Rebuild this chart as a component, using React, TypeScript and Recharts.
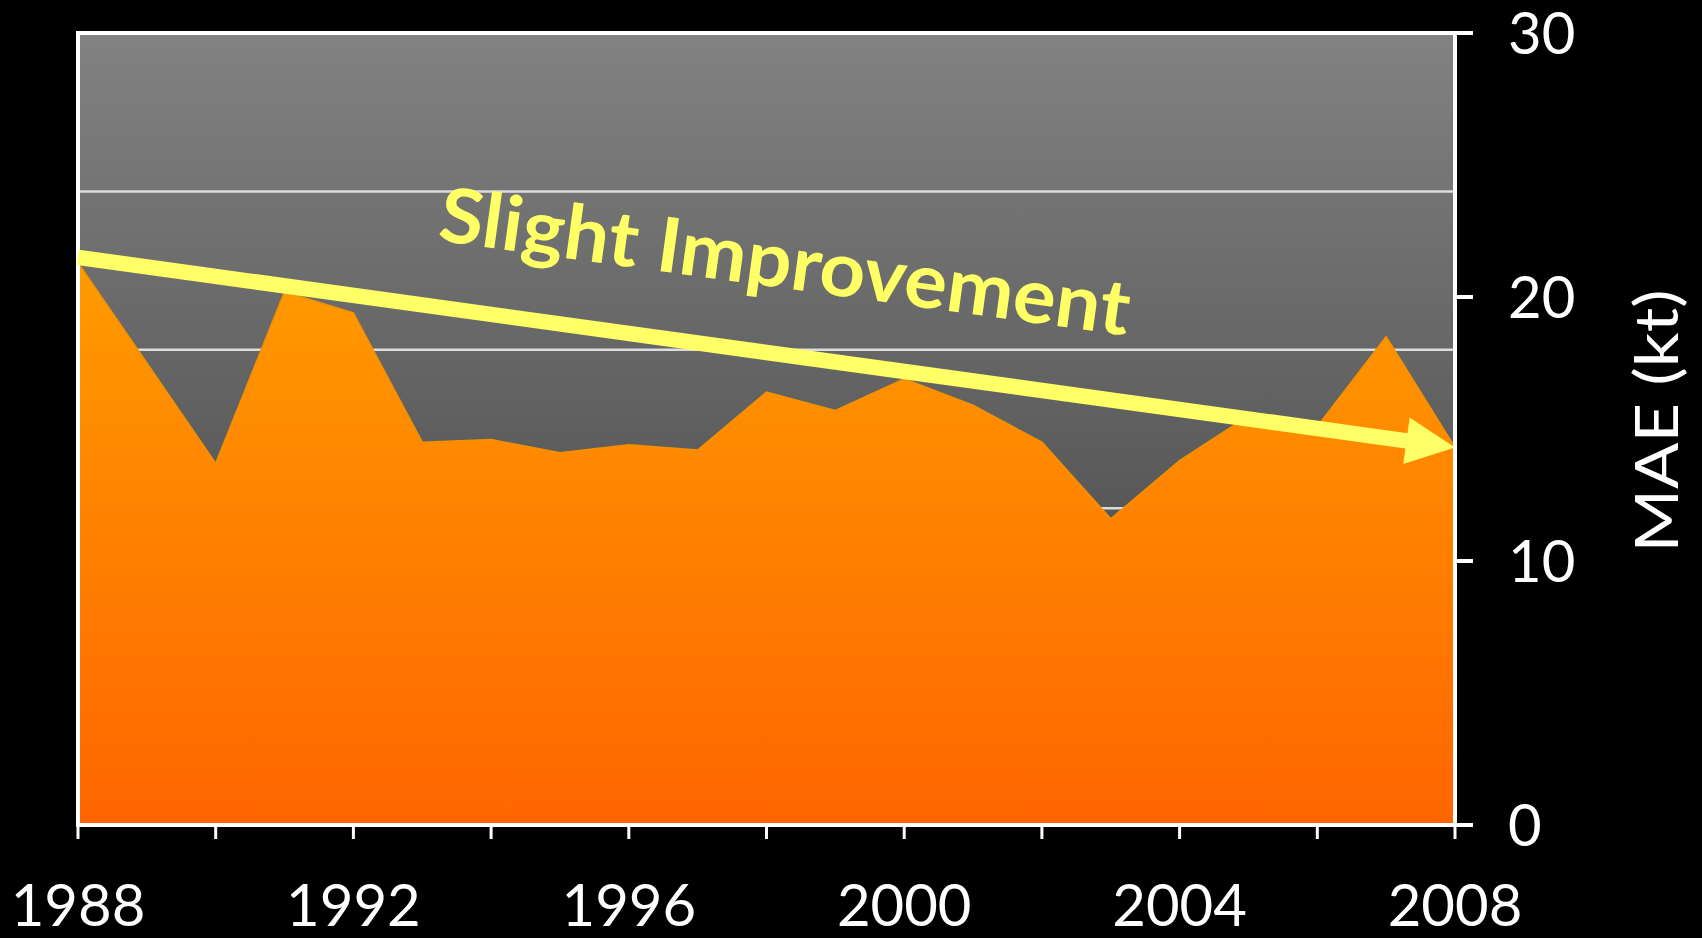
import React from "react";
import {
  ComposedChart,
  Area,
  XAxis,
  YAxis,
  CartesianGrid,
  ReferenceLine,
  ReferenceArea,
} from "recharts";

const years = [
  1988, 1989, 1990, 1991, 1992, 1993, 1994, 1995, 1996, 1997, 1998, 1999,
  2000, 2001, 2002, 2003, 2004, 2005, 2006, 2007, 2008,
];
const mae = [
  21.3, 17.5, 13.7, 20.2, 19.4, 14.5, 14.6, 14.1, 14.4, 14.2, 16.4, 15.7,
  16.9, 15.9, 14.5, 11.6, 13.8, 15.5, 15.1, 18.5, 14.3,
];

// trend arrow end points
const trendYears = [1988, 2008];
const trendValues = [21.5, 14.3];

const yearTicks = [1988, 1990, 1992, 1994, 1996, 1998, 2000, 2002, 2004, 2006, 2008];
const labeledYears = [1988, 1992, 1996, 2000, 2004, 2008];
const maeTicks = [0, 10, 20, 30];
const gridValues = [6, 12, 18, 24];

const YELLOW = "#FFFF66";
const FONT = "Lato, 'Open Sans', sans-serif";

function TrendArrow(props: any) {
  const { x1, y1, x2, y2 } = props;
  if ([x1, y1, x2, y2].some((v) => typeof v !== "number")) return null;
  const dx = x2 - x1;
  const dy = y2 - y1;
  const len = Math.hypot(dx, dy);
  const ux = dx / len;
  const uy = dy / len;
  const nx = uy;
  const ny = -ux;
  const head = 49;
  const half = 23.5;
  const bx = x2 - ux * head;
  const by = y2 - uy * head;
  const angle = (Math.atan2(dy, dx) * 180) / Math.PI;
  const tx = (x1 + x2) / 2 + ux * 6 + nx * 66;
  const ty = (y1 + y2) / 2 + uy * 6 + ny * 66;

  return (
    <g>
      <line
        x1={x1}
        y1={y1}
        x2={bx + ux * 2}
        y2={by + uy * 2}
        stroke={YELLOW}
        strokeWidth={15.5}
      />
      <polygon
        points={`${x2},${y2} ${bx + nx * half},${by + ny * half} ${bx - nx * half},${by - ny * half}`}
        fill={YELLOW}
      />
      <text
        x={tx}
        y={ty}
        transform={`rotate(${angle} ${tx} ${ty})`}
        textAnchor="middle"
        fill={YELLOW}
        fontFamily={FONT}
        fontWeight={700}
        fontSize={76}
        textLength={696}
        lengthAdjust="spacingAndGlyphs"
      >
        Slight Improvement
      </text>
    </g>
  );
}

function AxisTitle(props: any) {
  const vb = props.viewBox || {};
  const cx = (vb.x ?? 1455) + 200;
  const cy = (vb.y ?? 33) + (vb.height ?? 792) / 2 - 8;
  return (
    <text
      x={cx}
      y={cy}
      transform={`rotate(-90 ${cx} ${cy})`}
      textAnchor="middle"
      dominantBaseline="central"
      fill="#fff"
      fontFamily={FONT}
      fontSize={60}
      textLength={263}
      lengthAdjust="spacingAndGlyphs"
    >
      MAE (kt)
    </text>
  );
}

export default function App() {
  const data = years.map((year, i) => ({ year, mae: mae[i] }));

  return (
    <div style={{ width: 1702, height: 938, background: "#000" }}>
      <style>{"body{margin:0;background:#000}"}</style>
      <ComposedChart
        width={1702}
        height={938}
        data={data}
        margin={{ top: 33, right: 0, bottom: 0, left: 78 }}
      >
        <defs>
          <linearGradient id="bgGrad" x1="0" y1="0" x2="0" y2="1">
            <stop offset="0%" stopColor="#828282" />
            <stop offset="100%" stopColor="#3c3c3c" />
          </linearGradient>
          <linearGradient id="areaGrad" x1="0" y1="0" x2="0" y2="1">
            <stop offset="0%" stopColor="#FF9B00" />
            <stop offset="100%" stopColor="#FF6500" />
          </linearGradient>
        </defs>

        <XAxis
          dataKey="year"
          type="number"
          domain={[1988, 2008]}
          ticks={yearTicks}
          interval={0}
          tickFormatter={(v) => (labeledYears.includes(v) ? String(v) : "")}
          height={113}
          tickSize={14}
          tickMargin={46}
          axisLine={{ stroke: "#fff", strokeWidth: 4 }}
          tickLine={{ stroke: "#fff", strokeWidth: 3 }}
          tick={{ fill: "#fff", fontSize: 58, fontFamily: FONT }}
        />
        <YAxis
          yAxisId="val"
          orientation="right"
          domain={[0, 30]}
          ticks={maeTicks}
          interval={0}
          width={247}
          tickSize={18}
          tickMargin={35}
          axisLine={{ stroke: "#fff", strokeWidth: 4 }}
          tickLine={{ stroke: "#fff", strokeWidth: 4 }}
          tick={{ fill: "#fff", fontSize: 58, fontFamily: FONT }}
          label={{ content: AxisTitle }}
        />

        {/* plot background only */}
        <CartesianGrid
          yAxisId="val"
          horizontal={false}
          vertical={false}
          fill="url(#bgGrad)"
          fillOpacity={1}
        />

        {/* gridlines every 6 kt, under the area */}
        {gridValues.map((v) => (
          <ReferenceLine
            key={v}
            yAxisId="val"
            y={v}
            stroke="#dcdcdc"
            strokeWidth={2.5}
            zIndex={-50}
          />
        ))}

        <Area
          yAxisId="val"
          type="linear"
          dataKey="mae"
          fill="url(#areaGrad)"
          fillOpacity={1}
          stroke="#F29100"
          strokeWidth={1.5}
          isAnimationActive={false}
          dot={false}
          activeDot={false}
        />

        <ReferenceLine
          yAxisId="val"
          segment={[
            { x: trendYears[0], y: trendValues[0] },
            { x: trendYears[1], y: trendValues[1] },
          ]}
          ifOverflow="visible"
          shape={TrendArrow}
        />

        <ReferenceArea
          yAxisId="val"
          x1={1988}
          x2={2008}
          y1={0}
          y2={30}
          fill="none"
          stroke="#fff"
          strokeWidth={4}
          ifOverflow="visible"
        />
      </ComposedChart>
    </div>
  );
}
